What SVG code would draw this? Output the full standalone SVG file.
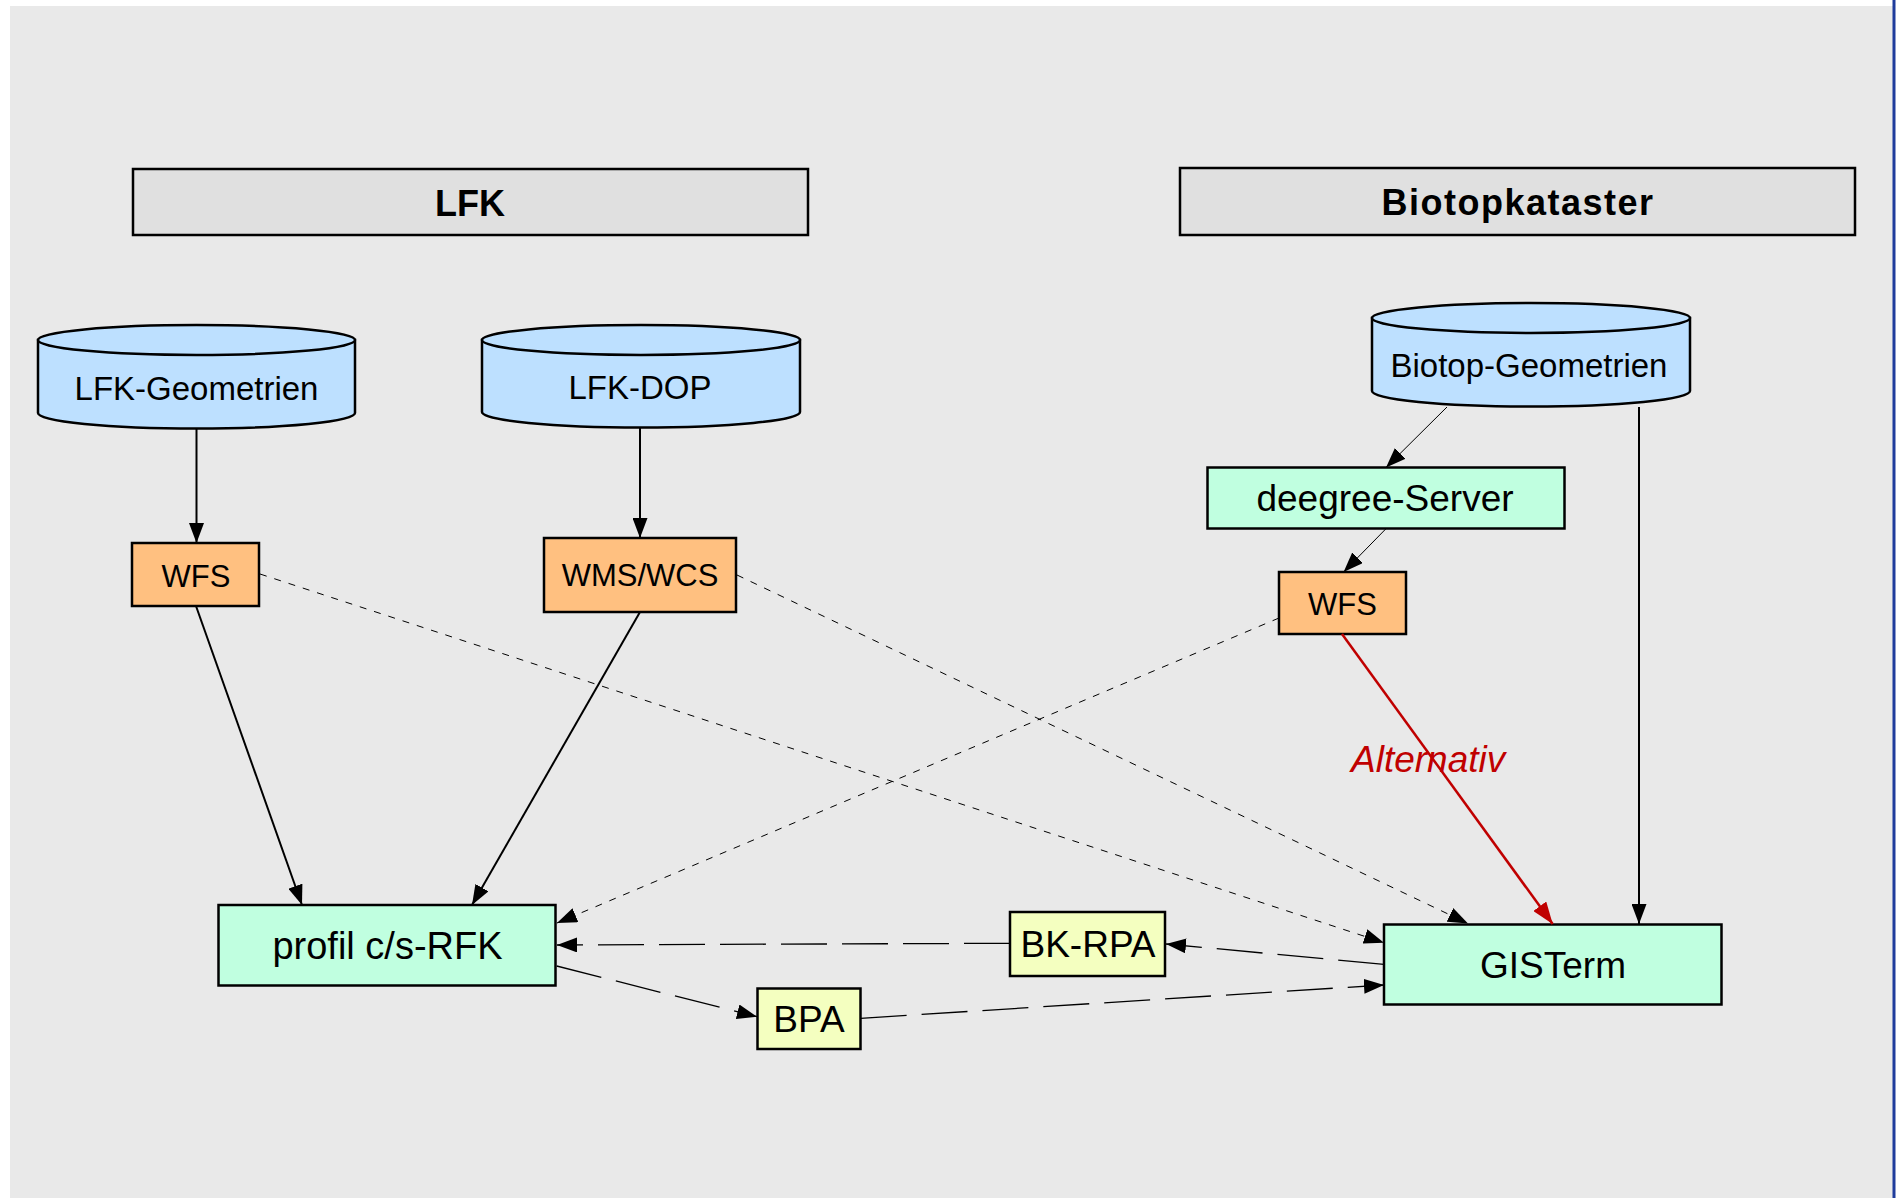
<svg xmlns="http://www.w3.org/2000/svg" width="1896" height="1198" viewBox="0 0 1896 1198">
<defs>
<style>
text{font-family:"Liberation Sans",Arial,sans-serif;fill:#000;text-anchor:middle}
.hdr{fill:#e0e0e0;stroke:#000;stroke-width:2.5}
.hdrt{font-weight:bold;font-size:36px}
.cyl{fill:#bde0ff;stroke:#000;stroke-width:2.5}
.cylt{font-size:33px}
.svc{fill:#ffc080;stroke:#000;stroke-width:2.5}
.app{fill:#c0ffe0;stroke:#000;stroke-width:2.5}
.doc{fill:#f4ffc0;stroke:#000;stroke-width:2.5}
.solid{stroke:#000;stroke-width:2;fill:none;marker-end:url(#ah)}
.thin{stroke:#000;stroke-width:1;fill:none;marker-end:url(#ah)}
.dot{stroke:#000;stroke-width:1;fill:none;stroke-dasharray:7 8;marker-end:url(#ah)}
.dash{stroke:#000;stroke-width:1.3;fill:none;stroke-dasharray:46 15;marker-end:url(#ah)}
.red{stroke:#c00000;stroke-width:2.5;fill:none;marker-end:url(#ahr)}
</style>
<marker id="ah" markerUnits="userSpaceOnUse" markerWidth="20" markerHeight="15" refX="20" refY="7.5" orient="auto"><path d="M0,0 L20,7.5 L0,15 Z" fill="#000"/></marker>
<marker id="ahr" markerUnits="userSpaceOnUse" markerWidth="22" markerHeight="16" refX="22" refY="8" orient="auto"><path d="M0,0 L22,8 L0,16 Z" fill="#c00000"/></marker>
</defs>
<rect x="0" y="0" width="1896" height="1198" fill="#ffffff"/>
<rect x="10" y="6" width="1883" height="1192" fill="#e9e9e9"/>
<line x1="1894" y1="0" x2="1894" y2="1198" stroke="#1f3c9c" stroke-width="3"/>

<g id="hdr-lfk"><rect class="hdr" x="133" y="169" width="675" height="66"/><text class="hdrt" x="470" y="216">LFK</text></g>
<g id="hdr-biotop"><rect class="hdr" x="1180" y="168" width="675" height="67"/><text class="hdrt" x="1518" y="215" style="letter-spacing:1.5px">Biotopkataster</text></g>

<g id="lfk-geometrien">
<path class="cyl" d="M38,340 L38,413 A158.5,15.5 0 0 0 355,413 L355,340 Z"/>
<ellipse class="cyl" cx="196.5" cy="340" rx="158.5" ry="15"/>
<text class="cylt" x="196.5" y="400">LFK-Geometrien</text>
</g>
<g id="lfk-dop">
<path class="cyl" d="M482,340 L482,412 A159,15.5 0 0 0 800,412 L800,340 Z"/>
<ellipse class="cyl" cx="641" cy="340" rx="159" ry="15"/>
<text class="cylt" x="640" y="399">LFK-DOP</text>
</g>
<g id="biotop-geometrien">
<path class="cyl" d="M1372,318 L1372,391 A159,15.5 0 0 0 1690,391 L1690,318 Z"/>
<ellipse class="cyl" cx="1531" cy="318" rx="159" ry="15"/>
<text class="cylt" x="1529" y="377">Biotop-Geometrien</text>
</g>

<g id="wfs-lfk"><rect class="svc" x="132" y="543" width="127" height="63"/><text x="196" y="587" font-size="31">WFS</text></g>
<g id="wms-wcs"><rect class="svc" x="544" y="538" width="192" height="74"/><text x="640" y="586" font-size="31">WMS/WCS</text></g>
<g id="deegree"><rect class="app" x="1207.5" y="467.5" width="357" height="61"/><text x="1385" y="511" font-size="37">deegree-Server</text></g>
<g id="wfs-biotop"><rect class="svc" x="1279" y="572" width="127" height="62"/><text x="1342.5" y="615" font-size="31">WFS</text></g>
<g id="profil"><rect class="app" x="218.5" y="905" width="337" height="80.5"/><text x="387.5" y="959" font-size="38">profil c/s-RFK</text></g>
<g id="gisterm"><rect class="app" x="1384" y="924.5" width="337.5" height="80"/><text x="1553" y="978" font-size="37">GISTerm</text></g>
<g id="bk-rpa"><rect class="doc" x="1010" y="912" width="155" height="64"/><text x="1088" y="957" font-size="37">BK-RPA</text></g>
<g id="bpa"><rect class="doc" x="757.5" y="988.5" width="103" height="60.5"/><text x="809" y="1032" font-size="37">BPA</text></g>

<g id="connectors">
<line class="solid" x1="196.5" y1="429" x2="196.5" y2="543"/>
<line class="solid" x1="640" y1="428" x2="640" y2="538"/>
<line class="solid" x1="196" y1="606" x2="302" y2="905"/>
<line class="solid" x1="640" y1="612" x2="472" y2="905"/>
<line class="dot" x1="260" y1="574" x2="1384" y2="942.7"/>
<line class="dot" x1="737" y1="575" x2="1468" y2="923.5"/>
<line class="dot" x1="1279" y1="618" x2="557" y2="923"/>
<line class="thin" x1="1447" y1="407" x2="1386" y2="467.5"/>
<line class="thin" x1="1386" y1="528.7" x2="1343.6" y2="572"/>
<line class="red" x1="1342" y1="634" x2="1552.7" y2="924"/>
<line class="solid" x1="1639" y1="407" x2="1639" y2="924"/>
<line class="dash" x1="1010" y1="943.3" x2="557" y2="945"/>
<line class="dash" x1="1384" y1="964.3" x2="1166" y2="944"/>
<line class="dash" x1="556.7" y1="966" x2="757" y2="1016.7"/>
<line class="dash" x1="860.7" y1="1018.3" x2="1384" y2="985"/>
<text x="1351" y="772" font-size="37" font-style="italic" style="fill:#c00000;text-anchor:start">Alternativ</text>
</g>
</svg>
